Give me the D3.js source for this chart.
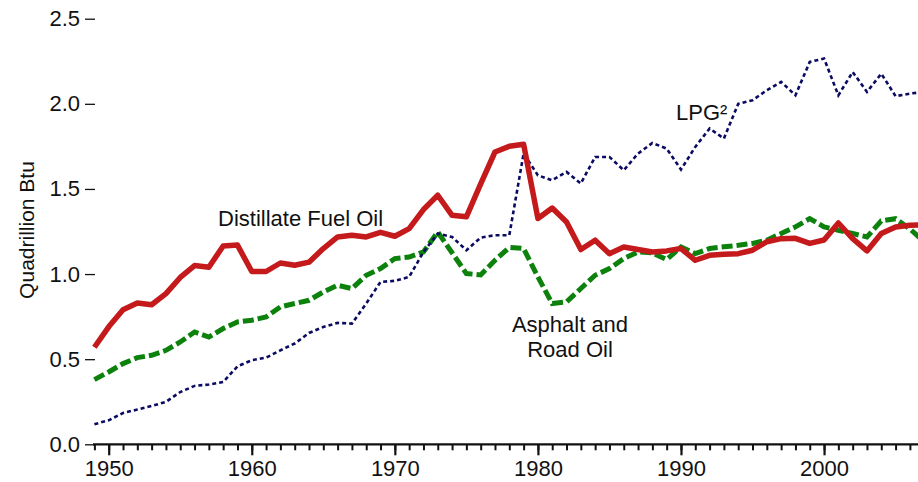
<!DOCTYPE html>
<html>
<head>
<meta charset="utf-8">
<script src="https://cdn.jsdelivr.net/npm/d3@7"></script>
<style>
  body { margin: 0; background: #fff; }
  svg { display: block; font-family: Arial, "Liberation Sans", sans-serif; }
</style>
</head>
<body>
<div id="chart"></div>
<script>
var years = d3.range(1949, 2008);

var distillate = [0.57, 0.69, 0.79, 0.83, 0.82, 0.885, 0.98, 1.05, 1.04, 1.165, 1.17,
  1.015, 1.015, 1.065, 1.052, 1.07, 1.15, 1.218, 1.228, 1.218, 1.245, 1.222,
  1.267, 1.379, 1.463, 1.345, 1.336, 1.53, 1.717, 1.751, 1.763, 1.326,
  1.388, 1.306, 1.144, 1.199, 1.12, 1.159, 1.144, 1.13, 1.136, 1.15,
  1.081, 1.11, 1.116, 1.12, 1.14, 1.19, 1.208, 1.21, 1.18, 1.2,
  1.3, 1.208, 1.136, 1.238, 1.277, 1.287, 1.29];

var asphalt = [0.38, 0.425, 0.474, 0.509, 0.523, 0.552, 0.601, 0.66, 0.63, 0.68, 0.719,
  0.729, 0.748, 0.807, 0.827, 0.846, 0.895, 0.934, 0.915, 0.993, 1.032, 1.091,
  1.10, 1.13, 1.247, 1.125, 1.003, 0.995, 1.081, 1.156, 1.15, 0.983,
  0.827, 0.836, 0.915, 0.993, 1.032, 1.091, 1.13, 1.124, 1.085, 1.159,
  1.12, 1.15, 1.16, 1.169, 1.18, 1.199, 1.238, 1.277, 1.326, 1.277,
  1.257, 1.238, 1.218, 1.312, 1.325, 1.265, 1.19];

var lpg = [0.118, 0.141, 0.184, 0.204, 0.225, 0.249, 0.307, 0.343, 0.351, 0.366, 0.458,
  0.494, 0.509, 0.552, 0.592, 0.654, 0.689, 0.713, 0.709, 0.827, 0.954, 0.96,
  0.983, 1.13, 1.238, 1.218, 1.14, 1.214, 1.228, 1.228, 1.708, 1.58,
  1.551, 1.6, 1.532, 1.688, 1.688, 1.61, 1.708, 1.77, 1.737, 1.614,
  1.747, 1.855, 1.796, 2.0, 2.021, 2.08, 2.129, 2.05, 2.246, 2.266,
  2.05, 2.187, 2.07, 2.177, 2.045, 2.06, 2.07];

var yTicks = [0, 0.5, 1.0, 1.5, 2.0, 2.5];
var decadeTicks = [1950, 1960, 1970, 1980, 1990, 2000];

var width = 918;
var height = 482;

var svg = d3.select("#chart").append("svg")
  .attr("width", width)
  .attr("height", height);

var x = d3.scaleLinear().domain([1949, 2007]).range([94.4, 924.2]);
var y = d3.scaleLinear().domain([0, 2.5]).range([444.3, 18.7]);

// y axis: ticks only, no spine
var yAxis = svg.append("g")
  .attr("transform", "translate(95,0)")
  .call(d3.axisLeft(y).tickValues(yTicks).tickSize(10).tickPadding(5)
    .tickFormat(d3.format(".1f")));
yAxis.select(".domain").remove();
yAxis.selectAll("line").attr("stroke", "#111").attr("stroke-width", 1.3);
yAxis.selectAll("text").attr("font-size", 22).attr("fill", "#111")
  .attr("font-family", "Arial, 'Liberation Sans', sans-serif");

svg.append("text")
  .attr("transform", "translate(34,230) rotate(-90)")
  .attr("text-anchor", "middle")
  .attr("font-size", 21)
  .attr("fill", "#111")
  .text("Quadrillion Btu");

// x axis: minor yearly ticks + major decade ticks
var xMinor = svg.append("g")
  .attr("transform", "translate(0,444.3)")
  .call(d3.axisBottom(x).tickValues(years).tickSize(6).tickFormat(""));
xMinor.select(".domain").attr("stroke", "#111").attr("stroke-width", 2.2)
  .attr("d", "M93," + 0 + "H" + width);
xMinor.selectAll("line").attr("stroke", "#111").attr("stroke-width", 2);

var xMajor = svg.append("g")
  .attr("transform", "translate(0,444.3)")
  .call(d3.axisBottom(x).tickValues(decadeTicks).tickSize(11).tickPadding(5)
    .tickFormat(d3.format("d")));
xMajor.select(".domain").remove();
xMajor.selectAll("line").attr("stroke", "#111").attr("stroke-width", 2.2);
xMajor.selectAll("text").attr("font-size", 22).attr("fill", "#111")
  .attr("font-family", "Arial, 'Liberation Sans', sans-serif");

function lineFor(values){
  return d3.line()
    .x(function(d, i){ return x(years[i]); })
    .y(function(d){ return y(d); })(values);
}

svg.append("path")
  .attr("d", lineFor(asphalt))
  .attr("fill", "none")
  .attr("stroke", "#0c820c")
  .attr("stroke-width", 5)
  .attr("stroke-dasharray", "11,4");

svg.append("path")
  .attr("d", lineFor(lpg))
  .attr("fill", "none")
  .attr("stroke", "#0b0b62")
  .attr("stroke-width", 2.6)
  .attr("stroke-dasharray", "4,3");

svg.append("path")
  .attr("d", lineFor(distillate))
  .attr("fill", "none")
  .attr("stroke", "#c41a1c")
  .attr("stroke-width", 5.5)
  .attr("stroke-linejoin", "round");

// labels
var labels = [
  {t: "Distillate Fuel Oil", x: 218, y: 226, a: "start"},
  {t: "LPG\u00b2", x: 676, y: 120, a: "start"},
  {t: "Asphalt and", x: 570, y: 332, a: "middle"},
  {t: "Road Oil", x: 570, y: 357, a: "middle"}
];
svg.selectAll(".lbl").data(labels).enter().append("text")
  .attr("class", "lbl")
  .attr("x", function(d){ return d.x; })
  .attr("y", function(d){ return d.y; })
  .attr("text-anchor", function(d){ return d.a; })
  .attr("font-size", 22)
  .attr("fill", "#111")
  .text(function(d){ return d.t; });
</script>
</body>
</html>
